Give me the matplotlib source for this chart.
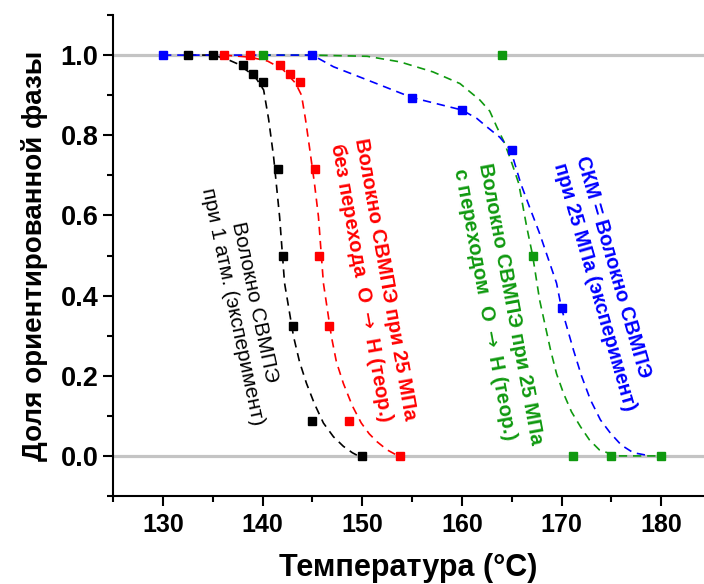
import matplotlib
matplotlib.use("Agg")
import matplotlib.pyplot as plt

plt.rcParams['font.family'] = ['Liberation Sans', 'DejaVu Sans']

# measured points (squares)
black_T = [132.5, 135, 138, 139, 140, 141.5, 142, 143, 145, 150]
black_f = [1, 1, 0.976, 0.954, 0.932, 0.715, 0.5, 0.325, 0.086, 0]
red_T = [136.1, 138.7, 141.7, 142.7, 143.7, 145.3, 145.7, 146.7, 148.7, 153.8]
red_f = [1, 1, 0.976, 0.954, 0.932, 0.717, 0.5, 0.325, 0.086, 0]
green_T = [140, 164, 167.1, 171.2, 175, 180]
green_f = [1, 1, 0.5, 0, 0, 0]
blue_T = [130, 145, 155, 160, 165, 170]
blue_f = [1, 1, 0.894, 0.863, 0.763, 0.368]

# dashed curves
black_curve_T = [132.5, 135, 136.4, 137.5, 138.5, 139.4, 140.1, 140.6, 141.1, 141.7,
                 142.2, 143.1, 143.7, 144.4, 145.2, 146.1, 147.1, 148.1, 149.0, 149.6]
black_curve_f = [1, 1, 0.99, 0.978, 0.96, 0.94, 0.913, 0.84, 0.746, 0.597,
                 0.431, 0.298, 0.235, 0.181, 0.13, 0.082, 0.048, 0.024, 0.008, 0]
red_curve_T = [136.1, 138.7, 140.5, 142, 143.3, 143.9, 144.3, 144.7, 145.2, 145.6,
               146.1, 146.9, 147.4, 148.1, 149.0, 149.9, 150.7, 151.5, 152.5, 153.6]
red_curve_f = [1, 0.995, 0.985, 0.965, 0.93, 0.9, 0.84, 0.77, 0.68, 0.597,
               0.431, 0.298, 0.235, 0.181, 0.125, 0.082, 0.055, 0.035, 0.015, 0]
green_curve_T = [140, 145, 150.5, 153.8, 157.1, 159.8, 161.8, 162.8, 163.5, 164.2, 164.8,
                 165.7, 166.5, 167.1, 167.8, 168.9, 169.5, 170.2, 171.0, 171.9, 172.8,
                 173.8, 175.5, 180]
green_curve_f = [1, 1, 0.997, 0.983, 0.958, 0.929, 0.888, 0.86, 0.821, 0.785, 0.746,
                 0.68, 0.572, 0.5, 0.389, 0.264, 0.205, 0.156, 0.11, 0.073, 0.04,
                 0.015, 0, 0]
blue_curve_T = [130, 145, 147.1, 150.5, 155, 160, 161.5, 162.5, 163.8, 164.9, 165.9,
                166.8, 167.8, 169.5, 170, 171.2, 172.0, 172.9, 173.9, 174.9, 176.0,
                177.2, 178.9]
blue_curve_f = [1, 1, 0.971, 0.938, 0.894, 0.863, 0.842, 0.821, 0.795, 0.763, 0.68,
                0.62, 0.555, 0.431, 0.368, 0.264, 0.2, 0.14, 0.09, 0.057, 0.027,
                0.008, 0]

x_ticks = [130, 140, 150, 160, 170, 180]
y_ticks = [0.0, 0.2, 0.4, 0.6, 0.8, 1.0]

GREEN = '#0f990f'

fig = plt.figure(figsize=(7.04, 5.84), dpi=100)
ax = fig.add_axes([0.1608, 0.1507, 0.8392, 0.8236])

ax.axhline(0, color='#c4c4c4', lw=2.3, zorder=1)
ax.axhline(1, color='#c4c4c4', lw=2.3, zorder=1)

dash = (0, (5, 3.5))
for cT, cf, T, f, col in [
        (black_curve_T, black_curve_f, black_T, black_f, 'black'),
        (red_curve_T, red_curve_f, red_T, red_f, 'red'),
        (green_curve_T, green_curve_f, green_T, green_f, GREEN),
        (blue_curve_T, blue_curve_f, blue_T, blue_f, 'blue')]:
    ax.plot(cT, cf, color=col, lw=1.2, linestyle=dash, zorder=2)
    ax.plot(T, f, 's', color=col, ms=5.5, zorder=3)

arrow = r"$\rightarrow$"
ax.text(138.1, 0.379, "Волокно СВМПЭ\nпри 1 атм. (эксперимент)", color='black',
        fontsize=15, rotation=-78, ha='center', va='center', multialignment='center',
        rotation_mode='anchor', linespacing=1.25)
ax.text(151.0, 0.435, "Волокно СВМПЭ при 25 МПа\nбез перехода  O " + arrow + " H (теор.)",
        color='red', fontsize=14.6, fontweight='bold', rotation=-80, ha='center',
        va='center', multialignment='left', rotation_mode='anchor', linespacing=1.25)
ax.text(163.5, 0.372, "Волокно СВМПЭ при 25 МПа\nс переходом  O " + arrow + " H (теор.)",
        color=GREEN, fontsize=14.6, fontweight='bold', rotation=-79.5, ha='center',
        va='center', multialignment='left', rotation_mode='anchor', linespacing=1.25)
ax.text(174.4, 0.43, "СКМ = Волокно СВМПЭ\nпри 25 МПа (эксперимент)", color='blue',
        fontsize=14.3, fontweight='bold', rotation=-74, ha='center', va='center',
        multialignment='left', rotation_mode='anchor', linespacing=1.25)

ax.set_xlim(125, 184.3)
ax.set_ylim(-0.1, 1.1)
ax.set_xticks(x_ticks)
ax.set_xticks([125, 135, 145, 155, 165, 175], minor=True)
ax.set_yticks(y_ticks)
ax.set_yticks([-0.1, 0.1, 0.3, 0.5, 0.7, 0.9, 1.1], minor=True)
ax.set_xticklabels([str(t) for t in x_ticks], fontweight='bold', fontsize=18)
ax.set_yticklabels([f"{t:.1f}" for t in y_ticks], fontweight='bold', fontsize=19.5)
ax.tick_params(which='major', direction='out', length=7, width=1.5)
ax.tick_params(which='minor', direction='out', length=4, width=1.5)
ax.tick_params(axis='x', pad=5)
ax.spines['top'].set_visible(False)
ax.spines['right'].set_visible(False)
ax.spines['left'].set_linewidth(1.5)
ax.spines['bottom'].set_linewidth(1.5)

ax.set_xlabel("Температура (°C)", fontweight='bold', fontsize=22, labelpad=12)
ax.set_ylabel("Доля ориентированной фазы", fontweight='bold', fontsize=20, labelpad=9)

fig.savefig("out.png", dpi=100)
